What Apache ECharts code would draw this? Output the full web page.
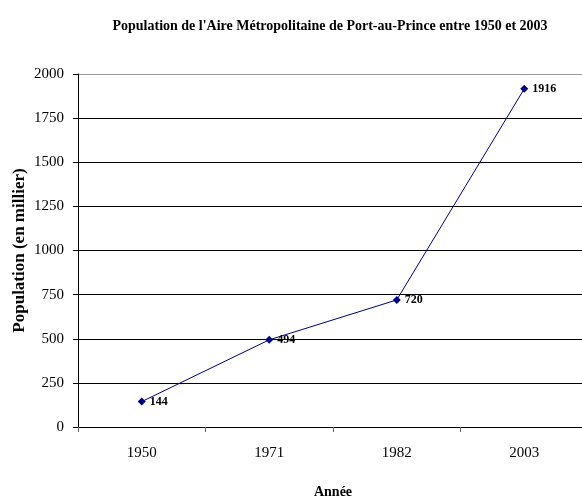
<!DOCTYPE html>
<html><head><meta charset="utf-8">
<script src="https://cdn.jsdelivr.net/npm/echarts@6/dist/echarts.min.js"></script>
<style>html,body{margin:0;padding:0;background:#fff}#c{width:582px;height:497px}</style>
</head><body><div id="c"></div>
<script>
const categories = ['1950', '1971', '1982', '2003'];
const population = [144, 494, 720, 1916];
const yTicks = [0, 250, 500, 750, 1000, 1250, 1500, 1750, 2000];

const chart = echarts.init(document.getElementById('c'), null, {renderer: 'canvas'});
const serif = '"Liberation Serif", "Times New Roman", serif';
chart.setOption({
  animation: false,
  backgroundColor: '#fff',
  title: {
    text: "Population de l'Aire Métropolitaine de Port-au-Prince entre 1950 et 2003",
    left: 325, top: 14, textAlign: 'center',
    textStyle: {fontFamily: serif, fontSize: 14, fontWeight: 'bold', color: '#000'}
  },
  grid: {left: 78, top: 74, width: 510, height: 353, containLabel: false, outerBoundsMode: 'none'},
  xAxis: {
    type: 'category', data: categories, boundaryGap: true,
    name: 'Année', nameLocation: 'middle', nameGap: 58, nameMoveOverlap: false,
    nameTextStyle: {fontFamily: serif, fontSize: 14, fontWeight: 'bold', color: '#000'},
    axisLine: {lineStyle: {color: '#000', width: 1}},
    axisTick: {show: true, length: 5, lineStyle: {color: '#666'}},
    axisLabel: {fontFamily: serif, fontSize: 15, color: '#000', margin: 19},
    splitLine: {show: false}
  },
  yAxis: {
    type: 'value', min: yTicks[0], max: yTicks[yTicks.length - 1], interval: 250,
    name: 'Population (en millier)', nameLocation: 'middle', nameGap: 50, nameRotate: 90, nameMoveOverlap: false,
    nameTextStyle: {fontFamily: serif, fontSize: 17, fontWeight: 'bold', color: '#000'},
    axisLine: {show: true, lineStyle: {color: '#000', width: 1}},
    axisTick: {show: true, length: 5, inside: false, lineStyle: {color: '#000'}},
    axisLabel: {fontFamily: serif, fontSize: 15, color: '#000', margin: 14, formatter: v => String(v)},
    splitLine: {show: true, lineStyle: {color: ['#000','#000','#000','#000','#000','#000','#000','#000','#999'], width: 1}}
  },
  series: [{
    type: 'line', data: population,
    symbol: 'diamond', symbolSize: 8,
    lineStyle: {color: '#000080', width: 1},
    itemStyle: {color: '#000080'},
    label: {show: true, position: 'right', distance: 4, fontFamily: serif, fontSize: 12, fontWeight: 'bold', color: '#000'}
  }]
});
</script></body></html>
